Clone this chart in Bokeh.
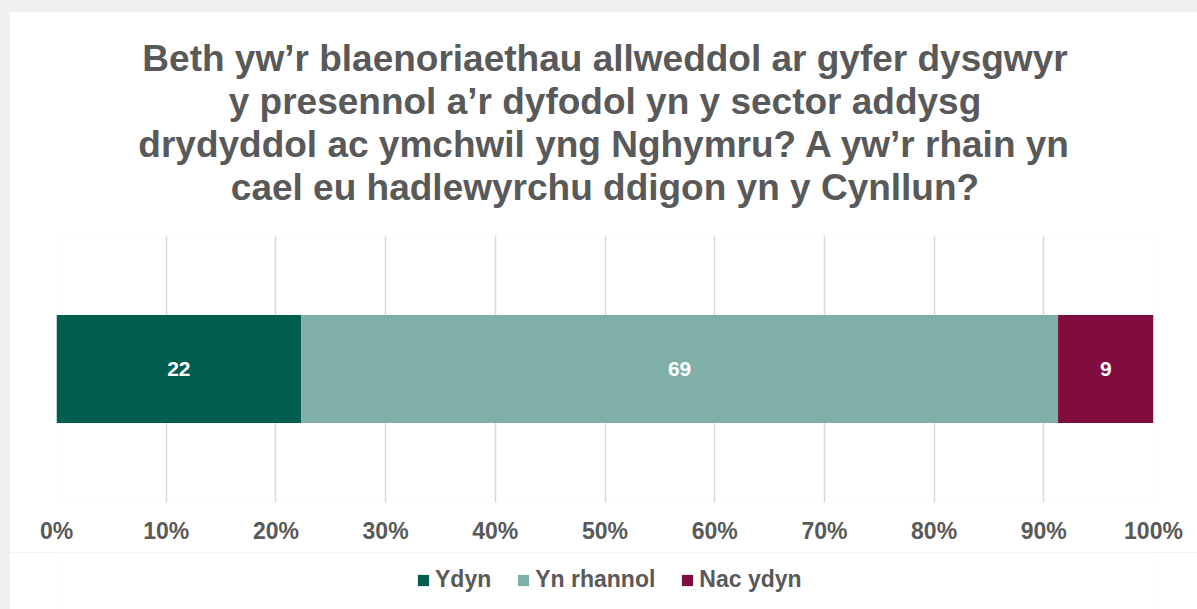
import numpy as np
from bokeh.plotting import figure
from bokeh.layouts import column
from bokeh.models import ColumnDataSource, Legend, LegendItem, Title, FixedTicker, CustomJSTickFormatter
from bokeh.core.properties import value
from bokeh.embed import file_html
from bokeh.resources import INLINE

# ---- data ----
categories = ["Ydyn", "Yn rhannol", "Nac ydyn"]
shares = [22.3, 69.0, 8.7]          # % of bar length
bar_labels = ["22", "69", "9"]
colors = ["#005E4F", "#80AEA8", "#800C40"]
ticks = [0, 10, 20, 30, 40, 50, 60, 70, 80, 90, 100]
title_lines = [
    "Beth yw\u2019r blaenoriaethau allweddol ar gyfer dysgwyr",
    "y presennol a\u2019r dyfodol yn y sector addysg",
    "drydyddol ac ymchwil yng Nghymru? A yw\u2019r rhain yn",
    "cael eu hadlewyrchu ddigon yn y Cynllun?",
]

FONT = "Liberation Sans"
GREY = "#595959"

p = figure(frame_width=1097, frame_height=267, x_range=(0, 100), y_range=(0, 1),
           output_backend="svg", toolbar_location=None,
           min_border_left=47, min_border_right=44, min_border_top=0, min_border_bottom=50,
           title=None)
p.outline_line_color = None
p.background_fill_color = "white"
p.border_fill_color = "white"

right = np.cumsum(shares)
left = right - np.array(shares)
src = ColumnDataSource(dict(y=[0.5] * 3, lab=bar_labels, mid=(left + right) / 2))

p.xgrid.ticker = FixedTicker(ticks=ticks)
p.xgrid.grid_line_color = "#D9D9D9"
p.xgrid.grid_line_width = 1.5
p.ygrid.visible = False

for i in range(3):
    p.hbar(y=0.5, left=left[i], right=right[i], height=0.404, fill_color=colors[i], line_color=None)

p.text(x="mid", y="y", text="lab", source=src, text_align="center", text_baseline="middle",
       text_color="white", text_font=value(FONT), text_font_style="bold", text_font_size="21px")

p.yaxis.visible = False
xa = p.xaxis[0]
xa.ticker = FixedTicker(ticks=ticks)
xa.formatter = CustomJSTickFormatter(code="return tick + '%';")
xa.axis_line_color = None
xa.major_tick_line_color = None
xa.minor_tick_line_color = None
xa.major_label_text_font = FONT
xa.major_label_text_font_style = "bold"
xa.major_label_text_font_size = "23px"
xa.major_label_text_color = GREY
xa.major_label_standoff = 9

# title: spacer next to the frame, one Title per line outward, spacer at the top
p.add_layout(Title(text=" ", standoff=0, text_font_size="23px", text_line_height=1.0), "above")
for t in reversed(title_lines):
    p.add_layout(Title(text=t, align="center", standoff=0,
                       text_font=FONT, text_font_style="bold", text_font_size="37px",
                       text_color=GREY, text_line_height=1.0), "above")
p.add_layout(Title(text=" ", standoff=0, text_font_size="20px", text_line_height=1.0), "above")

# legend strip below the chart (swatch renderers have zero height, so only the legend shows)
lg = figure(width=1188, height=57, x_range=(0, 100), y_range=(0, 1),
            x_axis_type=None, y_axis_type=None,
            output_backend="svg", toolbar_location=None, min_border=0)
lg.grid.visible = False
lg.outline_line_color = None
lg.border_fill_color = "white"
lg.background_fill_color = "white"
lg_rends = [lg.hbar(y=0.5, left=left[i], right=right[i], height=0, fill_color=colors[i], line_color=None)
            for i in range(3)]
legend = Legend(items=[LegendItem(label=categories[i], renderers=[lg_rends[i]]) for i in range(3)],
                orientation="horizontal", location=(360, 16),
                label_text_font=FONT, label_text_font_style="bold", label_text_font_size="23px",
                label_text_color=GREY, glyph_width=14, glyph_height=14, label_standoff=5,
                spacing=25, border_line_color=None, background_fill_alpha=0, margin=0, padding=0)
lg.add_layout(legend)

layout = column(p, lg, spacing=0)

html = file_html(layout, INLINE)
html = html.replace("<head>", "<head><style>html,body{background:#EFEFEF;overflow:hidden;} body{padding:11px 0 0 9px !important;}</style>", 1)
open("out.html", "w").write(html)
